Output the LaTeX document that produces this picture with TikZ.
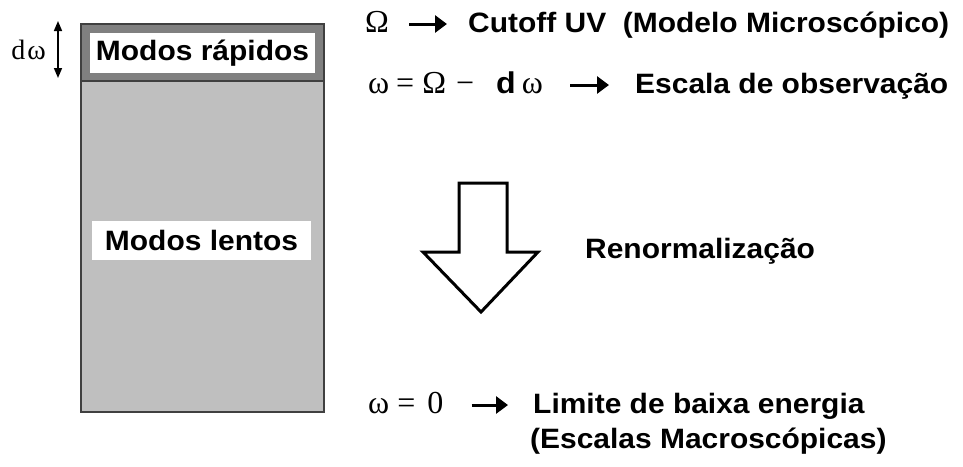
\documentclass[tikz,border=0pt]{standalone}
\usepackage{fontspec}
\setmainfont{Liberation Sans}
\newfontfamily\rotulo{Liberation Sans Bold}[FakeStretch=1.07]
\newfontfamily\grego{Liberation Serif}
\usetikzlibrary{arrows.meta,positioning}

\begin{document}
\begin{tikzpicture}[
		x=1pt, y=-1pt,
		every node/.style={inner sep=0pt},
		caixa/.style={
				draw=black!75,
				line width=1.2pt,
				fill=black!25,
				minimum width=243pt,
				minimum height=388pt
		},
		faixa/.style={
				draw=black!75,
				line width=1.2pt,
				fill=black!50,
				minimum width=243pt,
				minimum height=57pt
		},
		etiqueta/.style={
				fill=white,
				font=\rotulo\fontsize{28}{30}\selectfont
		},
		texto/.style={
				anchor=base west,
				font=\rotulo\fontsize{28}{30}\selectfont,
				text height=22pt,
				text depth=6pt
		},
		formula/.style={
				anchor=base west,
				font=\grego\fontsize{32}{34}\selectfont,
				text height=22pt,
				text depth=6pt
		},
		seta/.style={-{Triangle[length=12pt,width=17pt]}, line width=3pt},
		dupla/.style={{Triangle[length=10pt,width=8pt]}-{Triangle[length=10pt,width=8pt]}, line width=1.5pt},
		bloco/.style={draw=black, line width=3pt, fill=white, line join=miter}
	]

	\useasboundingbox (0,0) rectangle (963,466);

	% Modes box
	\node[caixa] (lento) at (202.5,218) {};
	\node[faixa, anchor=north] (rapido) at (lento.north) {};
	\node[etiqueta, minimum width=225pt, minimum height=40pt] (rapidos) at (202.5,53) {Modos rápidos};
	\node[etiqueta, minimum width=219pt, minimum height=39pt] (lentos) at (201.5,240.5) {Modos lentos};

	% Width of the fast band
	\coordinate (dtop) at (58,21);
	\coordinate (dbot) at (58,78);
	\draw[dupla] (dtop) -- (dbot);
	\node[font=\grego\fontsize{28}{30}\selectfont] (dw) at (28.5,50) {d\hspace{2pt}ω};

	% Top lines
	\node[formula] (corte) at (365,32) {Ω};
	\node[texto] (cutoff) at (468,32) {Cutoff UV\ \ (Modelo Microscópico)};
	\draw[seta, shorten <=20pt, shorten >=21pt] (corte) -- (cutoff);

	\node[formula] (obs) at (368,93) {ω\hspace{7pt}=\hspace{8pt}Ω\hspace{10pt}−\hspace{22pt}{\rotulo\fontsize{30}{32}\selectfont d}\hspace{6pt}ω};
	\node[texto] (escala) at (635,93) {Escala de observação};
	\draw[seta, shorten <=27pt, shorten >=26pt] (obs) -- (escala);

	% Renormalization arrow
	\draw[bloco] (459,183) -- (507,183) -- (507,252) -- (538,252) -- (481,312)
		-- (423,252) -- (459,252) -- cycle;
	\node[texto] (renorm) at (585,258) {Renormalização};

	% Bottom lines
	\node[formula] (zero) at (368,413) {ω\hspace{8pt}=\hspace{12pt}0};
	\node[texto] (limite) at (533,413) {Limite de baixa energia};
	\draw[seta, shorten <=28pt, shorten >=25pt] (zero) -- (limite);
	\node[texto] (macro) at (530,448) {(Escalas Macroscópicas)};

\end{tikzpicture}
\end{document}
